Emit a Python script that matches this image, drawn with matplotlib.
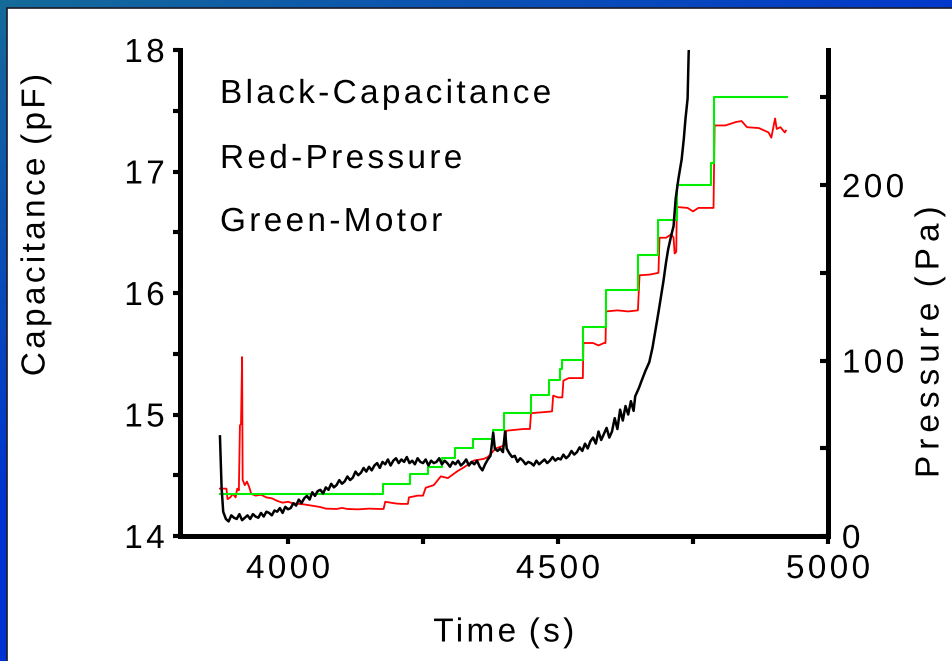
import numpy as np
import matplotlib
matplotlib.use("Agg")
import matplotlib.pyplot as plt
from matplotlib.patheffects import AbstractPathEffect
from matplotlib.path import Path
from matplotlib.patches import Rectangle
from matplotlib.ticker import MultipleLocator

# ---------------- data ----------------
cap_time = [3874, 3877, 3880, 3885,
            3890, 3895, 3900, 3905, 3910, 3915, 3920, 3925, 3930, 3935, 3940, 3945,
            3950, 3955, 3960, 3965, 3970, 3975, 3980, 3985, 3990, 3995, 4000, 4005,
            4010, 4015, 4020, 4025, 4030, 4035, 4040, 4045, 4050, 4055, 4060, 4065,
            4070, 4075, 4080, 4085, 4090, 4095, 4100, 4105, 4110, 4115, 4120, 4125,
            4130, 4135, 4140, 4145, 4150, 4155, 4160, 4165, 4170, 4175, 4180, 4185,
            4190, 4195, 4200, 4205, 4210, 4215, 4220, 4225, 4230, 4235, 4240, 4245,
            4250, 4255, 4260, 4265, 4270, 4275, 4280, 4285, 4290, 4295, 4300, 4305,
            4310, 4315, 4320, 4325, 4330, 4335, 4340, 4345, 4350, 4355, 4360, 4365,
            4370, 4375,
            4380, 4383, 4388, 4393, 4398, 4402, 4405,
            4410, 4415, 4420, 4425, 4430, 4435, 4440, 4445, 4450, 4455, 4460, 4465,
            4470, 4475, 4480, 4485, 4490, 4495, 4500, 4505, 4510, 4515, 4520, 4525,
            4530, 4535, 4540, 4545, 4550, 4555, 4560, 4565, 4570, 4575, 4580, 4585,
            4590, 4595, 4600, 4605, 4610, 4615, 4620, 4625, 4630, 4635, 4640,
            4643, 4650, 4655, 4662, 4669, 4675, 4680, 4686, 4690, 4695, 4700, 4704,
            4710, 4714, 4718, 4723, 4729, 4733, 4736, 4740, 4742, 4743]
cap_pF = [14.82, 14.40, 14.20, 14.14,
          14.12, 14.17, 14.15, 14.14, 14.18, 14.13, 14.15, 14.17, 14.14, 14.18, 14.16, 14.15,
          14.19, 14.16, 14.20, 14.19, 14.17, 14.21, 14.20, 14.23, 14.19, 14.24, 14.22, 14.23,
          14.27, 14.25, 14.30, 14.27, 14.31, 14.33, 14.30, 14.36, 14.33, 14.37, 14.38, 14.35,
          14.40, 14.38, 14.43, 14.40, 14.42, 14.46, 14.43, 14.45, 14.49, 14.46, 14.48, 14.53,
          14.50, 14.52, 14.56, 14.53, 14.57, 14.54, 14.58, 14.60, 14.56, 14.61, 14.59, 14.63,
          14.58, 14.62, 14.64, 14.60, 14.63, 14.61, 14.65, 14.60, 14.62, 14.59, 14.64, 14.61,
          14.60, 14.63, 14.58, 14.62, 14.60, 14.61, 14.64, 14.59, 14.62, 14.60, 14.57, 14.61,
          14.59, 14.62, 14.58, 14.60, 14.63, 14.58, 14.61, 14.59, 14.62, 14.57, 14.54, 14.59,
          14.63, 14.66,
          14.85, 14.72, 14.70, 14.72, 14.69, 14.86, 14.72,
          14.68, 14.65, 14.66, 14.61, 14.64, 14.62, 14.59, 14.61, 14.60, 14.58, 14.62, 14.59,
          14.61, 14.63, 14.60, 14.62, 14.65, 14.62, 14.64, 14.63, 14.67, 14.64, 14.66, 14.70,
          14.67, 14.69, 14.73, 14.70, 14.76, 14.72, 14.78, 14.81, 14.76, 14.86, 14.79, 14.84,
          14.89, 14.81, 14.86, 14.97, 14.88, 15.04, 14.95, 15.07, 15.00, 15.11, 15.03,
          15.15, 15.22, 15.28, 15.36, 15.43, 15.55, 15.68, 15.84, 15.95, 16.09, 16.25, 16.36,
          16.48, 16.55, 16.78, 16.94, 17.10, 17.27, 17.43, 17.60, 17.98, 18.05]

pres_time = [3874, 3886, 3888, 3893, 3898, 3903, 3906, 3909, 3911, 3913, 3915, 3916,
             3920, 3924, 3928, 3932, 3940, 3950, 3960, 3970, 3980, 3990, 4000, 4010,
             4020, 4030, 4040, 4050, 4060, 4070, 4090, 4100, 4110, 4130, 4150, 4170,
             4177, 4180, 4200, 4210, 4222, 4224, 4240, 4250, 4255, 4270, 4283, 4296,
             4305, 4314, 4325, 4335, 4344, 4363, 4370, 4376, 4385, 4395, 4402, 4404,
             4420, 4437, 4448, 4450, 4470, 4489, 4491, 4500, 4508, 4510, 4520, 4535,
             4546, 4547, 4565, 4575, 4585, 4588, 4589, 4610, 4630, 4648, 4651, 4670,
             4686, 4688, 4700, 4710, 4714, 4716, 4719, 4720, 4740, 4750, 4760, 4788,
             4790, 4810, 4830, 4840, 4850, 4872, 4890, 4895, 4902, 4905, 4912, 4920,
             4922]
pres_Pa = [27, 27, 21, 22, 24, 22, 27, 26, 63, 64, 102, 32,
           29, 31, 28, 24, 23, 23.5, 22, 21.5, 20, 19, 19.5, 18.5,
           18.3, 18, 17.5, 17, 16.5, 15.6, 15.4, 16, 15.4, 15.2, 15.6, 15.4,
           15.4, 19.5, 18.5, 18.3, 18.3, 22, 23, 23, 27.5, 29, 34, 33,
           35, 37, 39, 41, 43, 44, 45, 47, 50, 51, 52, 60,
           60.5, 61, 61, 70, 70.5, 71, 80, 79, 79, 88.6, 90, 90,
           90, 110, 110, 108.6, 110, 110, 128, 128.6, 128, 128.6, 148.6, 149,
           150, 170, 170, 172, 170, 161, 162, 187.5, 187, 185, 187, 187,
           234, 234, 236, 236.5, 233, 232.5, 230, 227, 238, 232, 233, 230,
           231]

motor_time = [3874, 4175, 4225, 4259, 4285, 4309, 4342, 4380, 4400, 4450, 4484,
              4503, 4507, 4547, 4589, 4649, 4686, 4720, 4783, 4788, 4924]
motor_Pa = [24, 29.7, 35.4, 39.4, 44.6, 50.3, 55.4, 60.6, 70.3, 80.5, 89,
            95, 100.5, 119.4, 140, 160, 180, 200, 212.5, 250, 250]

x_ticks = [4000, 4500, 5000]
cap_ticks = [14, 15, 16, 17, 18]
pres_ticks = [0, 100, 200]
legend_lines = ["Black-Capacitance", "Red-Pressure", "Green-Motor"]


# ---------------- letter spacing for text ----------------
class Tracking(AbstractPathEffect):
    """Adds extra space between glyphs of a text path."""
    def __init__(self, em=0.1, align="left"):
        super().__init__()
        self.em = em
        self.align = align

    def draw_path(self, renderer, gc, tpath, affine, rgbFace=None):
        codes = tpath.codes
        verts = tpath.vertices
        if codes is None or len(verts) == 0:
            renderer.draw_path(gc, tpath, affine, rgbFace)
            return
        starts = list(np.nonzero(codes == Path.MOVETO)[0]) + [len(codes)]
        sp = self.em * 100.0
        new = verts.copy()
        k = -1
        cur_max = -np.inf
        segs = []
        for a, b in zip(starts[:-1], starts[1:]):
            m = codes[a:b] != Path.CLOSEPOLY
            xs = verts[a:b][m, 0]
            if len(xs) == 0:
                segs.append((a, b, max(k, 0)))
                continue
            x0, x1 = xs.min(), xs.max()
            if x0 >= cur_max - 0.5:
                k += 1
                cur_max = x1
            else:
                cur_max = max(cur_max, x1)
            segs.append((a, b, k))
        total = max(k, 0) * sp
        base = {"left": 0.0, "center": -total / 2.0, "right": -total}[self.align]
        for a, b, g in segs:
            new[a:b, 0] += g * sp + base
        renderer.draw_path(gc, Path(new, codes), affine, rgbFace)


plt.rcParams["font.family"] = ["Liberation Sans", "DejaVu Sans"]

W, H = 952, 661
fig = plt.figure(figsize=(W / 100, H / 100), dpi=100)

# background: blue gradient frame with white panel
bg = fig.add_axes([0, 0, 1, 1], zorder=-10)
bg.set_axis_off()
yy, xx = np.mgrid[0:H, 0:W]
tt = np.clip(0.9 * xx / W + 1.3 * yy / H, 0, 1)[..., None]
c0 = np.array([0.08, 0.42, 0.60])
c1 = np.array([0.0, 0.20, 0.82])
bg.imshow(c0 * (1 - tt) + c1 * tt, extent=[0, 1, 0, 1], aspect="auto", origin="upper")
bg.add_patch(Rectangle((7 / W, -0.02), 1.05, (H - 8) / H + 0.02, transform=bg.transAxes,
                       facecolor="white", edgecolor="#1c1c2c", linewidth=1.2))
bg.set_xlim(0, 1)
bg.set_ylim(0, 1)

# main axes
L, R, T, B = 180, 828, 50, 536
ax = fig.add_axes([L / W, (H - B) / H, (R - L) / W, (B - T) / H])
ax2 = ax.twinx()
ax.set_zorder(3)
ax2.set_zorder(2)
ax.patch.set_visible(False)
ax2.patch.set_visible(False)

ax2.plot(pres_time, pres_Pa, color="#ff0000", lw=1.3)
ax2.step(motor_time, motor_Pa, where="post", color="#00ee00", lw=1.5)
ax.plot(cap_time, cap_pF, color="black", lw=1.8)

ax.set_xlim(3800, 5000)
ax.set_ylim(14, 18)
ax2.set_ylim(0, 277)

ax.set_xticks(x_ticks)
ax.set_yticks(cap_ticks)
ax2.set_yticks(pres_ticks)
ax.xaxis.set_minor_locator(MultipleLocator(250))
ax.yaxis.set_minor_locator(MultipleLocator(0.5))
ax2.yaxis.set_minor_locator(MultipleLocator(50))

for s in ["top", "right"]:
    ax.spines[s].set_visible(False)
for s in ["top", "left", "bottom"]:
    ax2.spines[s].set_visible(False)
for sp_ in [ax.spines["left"], ax.spines["bottom"], ax2.spines["right"]]:
    sp_.set_linewidth(3.6)

FS = 24
ax.tick_params(axis="x", which="both", direction="out", length=6, width=3, pad=7,
               labelsize=FS, colors="black")
ax.tick_params(axis="y", which="both", direction="out", length=5, width=3, pad=6,
               labelsize=FS, colors="black")
ax2.tick_params(axis="y", which="both", direction="in", length=6, width=3, pad=10,
                labelsize=FS, colors="black")

tr = 0.1
for lab in ax.get_xticklabels():
    lab.set_path_effects([Tracking(tr, "center")])
for lab in ax.get_yticklabels():
    lab.set_path_effects([Tracking(tr, "right")])
for lab in ax2.get_yticklabels():
    lab.set_path_effects([Tracking(tr, "left")])
    lab.set_verticalalignment("center_baseline")

xl = ax.set_xlabel("Time (s)", fontsize=FS, va="center")
ax.xaxis.set_label_coords(0.5, (B - 633) / (B - T))
yl = ax.set_ylabel("Capacitance (pF)", fontsize=FS, va="center", rotation_mode="default")
ax.yaxis.set_label_coords((36 - L) / (R - L), (B - 225) / (B - T))
yl2 = ax2.set_ylabel("Pressure (Pa)", fontsize=FS, va="center", rotation=90,
                     rotation_mode="default")
ax2.yaxis.set_label_coords((930 - L) / (R - L), (B - 342) / (B - T))
xl.set_path_effects([Tracking(tr, "center")])
yl.set_path_effects([Tracking(tr, "center")])
yl2.set_path_effects([Tracking(0.18, "center")])

for txt, ybase in zip(legend_lines, [103, 168, 231]):
    ax.text((220 - L) / (R - L), (B - ybase) / (B - T), txt, transform=ax.transAxes,
            fontsize=FS, va="baseline", ha="left",
            path_effects=[Tracking(tr, "left")])

fig.savefig("out.png", dpi=100)
